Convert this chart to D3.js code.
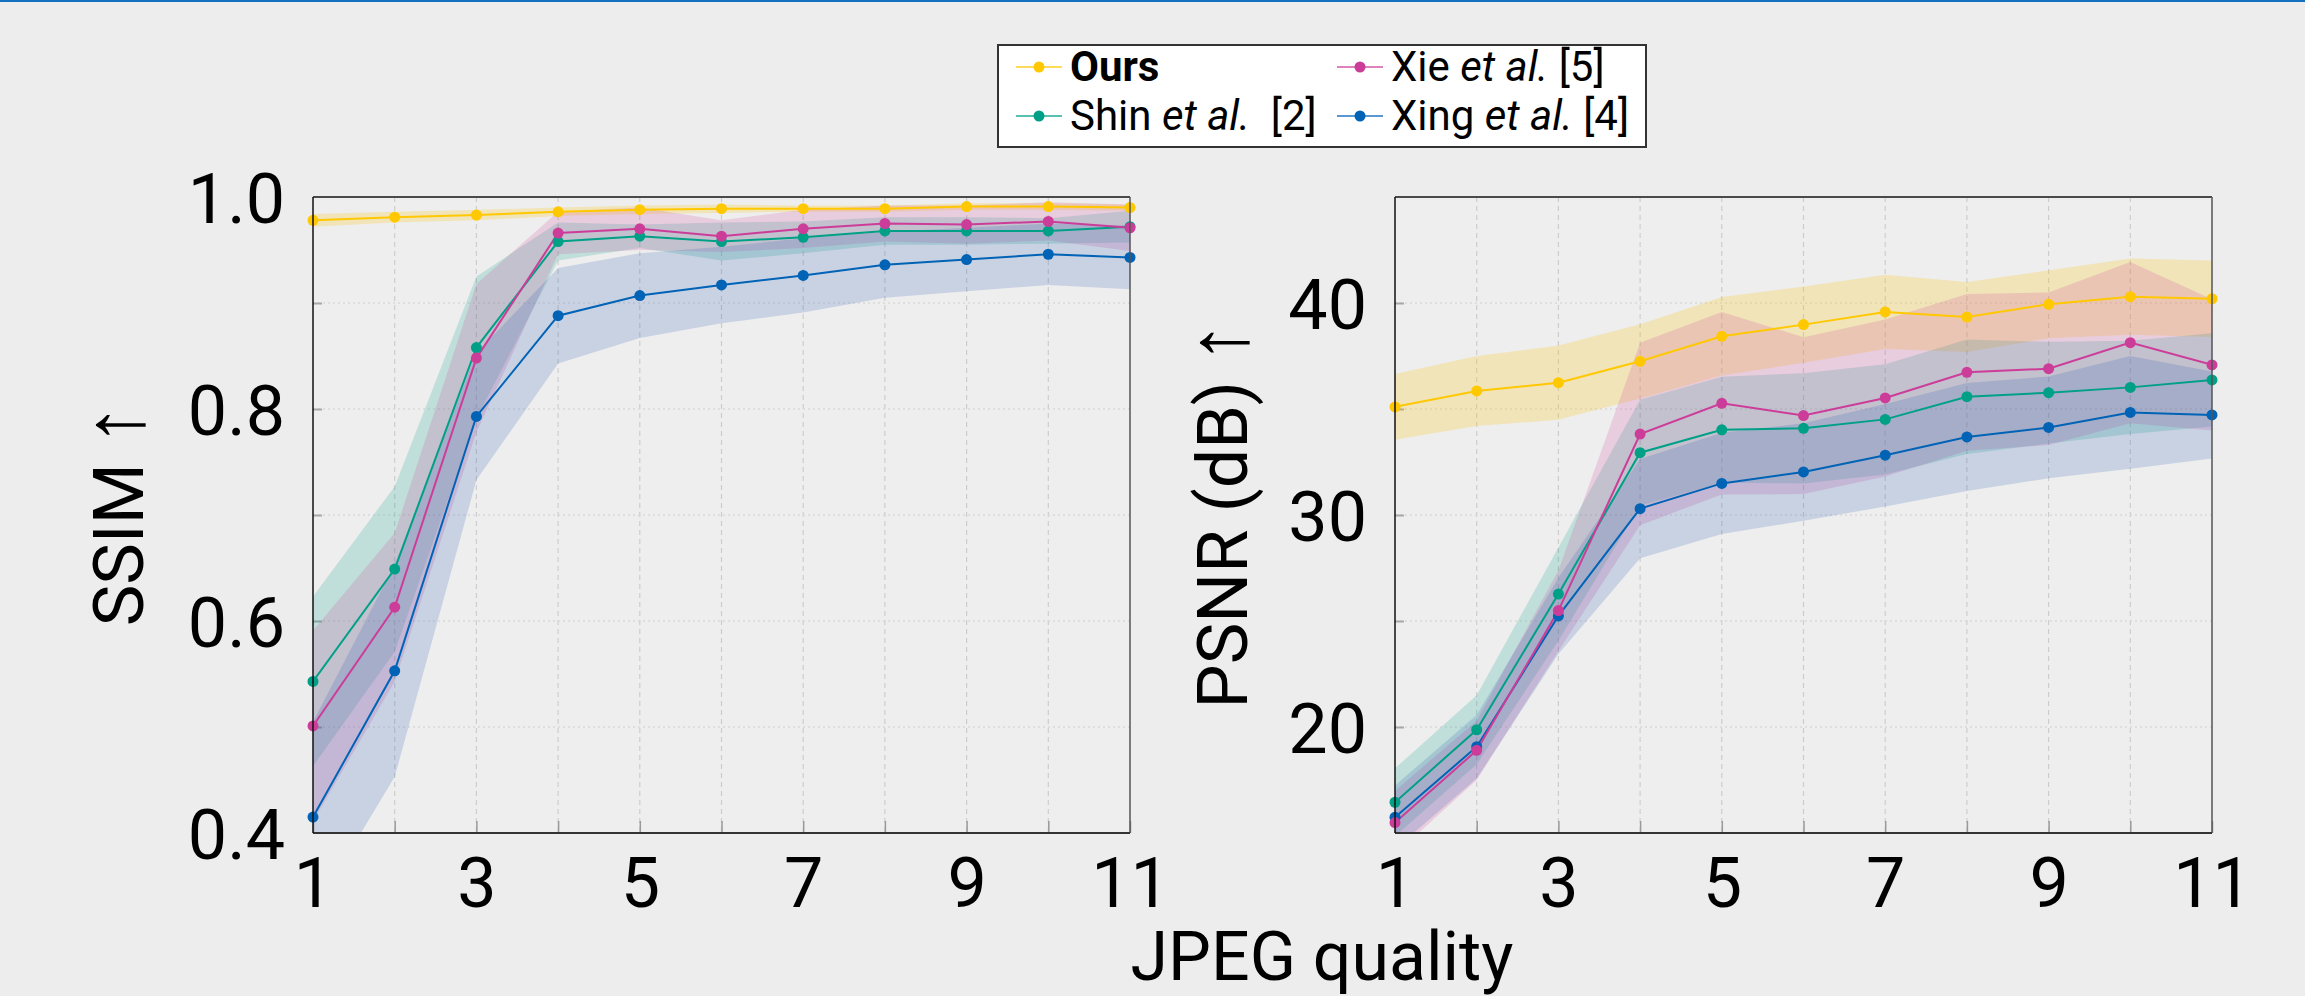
<!DOCTYPE html>
<html>
<head>
<meta charset="utf-8">
<script src="https://cdn.jsdelivr.net/npm/d3@7"></script>
<style>
  body { margin: 0; background: #ededed; }
  svg { display: block; }
  text { font-family: Roboto, "DejaVu Sans", sans-serif; fill: #000; }
</style>
</head>
<body>
<svg id="chart" width="2305" height="996"></svg>
<script>
// JPEG quality levels (x axis)
const qualities = [1, 2, 3, 4, 5, 6, 7, 8, 9, 10, 11];
const xTickLabels = [1, 3, 5, 7, 9, 11];

// SSIM mean / spread per method
const ssimOurs    = [0.978, 0.981, 0.983, 0.986, 0.988, 0.989, 0.989, 0.989, 0.991, 0.991, 0.990];
const ssimOursStd = [0.006, 0.005, 0.005, 0.004, 0.004, 0.004, 0.003, 0.003, 0.003, 0.003, 0.003];
const ssimShin    = [0.543, 0.649, 0.858, 0.958, 0.963, 0.958, 0.962, 0.968, 0.968, 0.968, 0.972];
const ssimShinStd = [0.080, 0.078, 0.067, 0.018, 0.011, 0.018, 0.015, 0.013, 0.013, 0.012, 0.015];
const ssimXie     = [0.501, 0.613, 0.848, 0.966, 0.970, 0.963, 0.970, 0.975, 0.974, 0.977, 0.971];
const ssimXieStd  = [0.090, 0.070, 0.070, 0.020, 0.020, 0.015, 0.018, 0.017, 0.018, 0.018, 0.022];
const ssimXing    = [0.415, 0.553, 0.793, 0.888, 0.907, 0.917, 0.926, 0.936, 0.941, 0.946, 0.943];
const ssimXingStd = [0.090, 0.100, 0.060, 0.045, 0.040, 0.036, 0.035, 0.031, 0.030, 0.029, 0.030];

// PSNR (dB) mean / spread per method
const psnrOurs    = [35.10, 35.85, 36.24, 37.25, 38.43, 38.98, 39.58, 39.34, 39.94, 40.30, 40.20];
const psnrOursStd = [1.55, 1.65, 1.75, 1.75, 1.85, 1.80, 1.75, 1.65, 1.60, 1.80, 1.80];
const psnrShin    = [16.45, 19.87, 26.27, 32.94, 34.02, 34.09, 34.51, 35.58, 35.77, 36.02, 36.37];
const psnrShinStd = [1.60, 1.63, 2.20, 2.50, 2.50, 2.60, 2.60, 2.70, 2.40, 2.20, 2.20];
const psnrXie     = [15.49, 18.90, 25.49, 33.82, 35.27, 34.69, 35.52, 36.73, 36.90, 38.13, 37.08];
const psnrXieStd  = [1.50, 1.40, 1.90, 4.30, 4.30, 3.70, 3.70, 3.70, 3.60, 3.80, 3.10];
const psnrXing    = [15.74, 19.07, 25.24, 30.30, 31.49, 32.03, 32.82, 33.68, 34.13, 34.84, 34.72];
const psnrXingStd = [1.50, 1.50, 1.80, 2.34, 2.39, 2.30, 2.42, 2.55, 2.40, 2.66, 2.05];

// legend entries
const methodKeys  = ["Ours", "Shin", "Xie", "Xing"];
const methodNames = ["Ours", "Shin", "Xie", "Xing"];
const methodRefs  = ["", "[2]", "[5]", "[4]"];
const colors     = { Ours: "#ffc800", Shin: "#00a087", Xie: "#cc3d99", Xing: "#0063b6" };
const bandColors = { Ours: "#ffc400", Shin: "#00a087", Xie: "#d0409a", Xing: "#2a58b5" };

const svg = d3.select("#chart");

// thin blue rule along the top edge
svg.append("rect").attr("x", 0).attr("y", 0).attr("width", 2305).attr("height", 2).attr("fill", "#1470c0");

const plotTop = 197, plotBottom = 833;

function makeSeries(means, stds) {
  return methodKeys.map((k, i) => ({
    key: k,
    values: qualities.map((q, j) => ({ q: q, v: means[i][j], s: stds[i][j] }))
  }));
}

function drawPanel(cfg) {
  const x = d3.scaleLinear().domain([1, 11]).range([cfg.left, cfg.right]);
  const y = d3.scaleLinear().domain(cfg.yDomain).range([plotBottom, plotTop]);
  const g = svg.append("g");

  g.append("rect")
    .attr("x", cfg.left).attr("y", plotTop)
    .attr("width", cfg.right - cfg.left).attr("height", plotBottom - plotTop)
    .attr("fill", "#eeeeee");

  svg.append("defs").append("clipPath").attr("id", cfg.id)
    .append("rect")
    .attr("x", cfg.left).attr("y", plotTop)
    .attr("width", cfg.right - cfg.left).attr("height", plotBottom - plotTop);

  // grid
  g.append("g").selectAll("line").data(qualities.slice(1, -1)).enter().append("line")
    .attr("x1", d => x(d)).attr("x2", d => x(d))
    .attr("y1", plotTop).attr("y2", plotBottom)
    .attr("stroke", "#cdcdcd").attr("stroke-width", 1.2).attr("stroke-dasharray", "5,4");
  g.append("g").selectAll("line").data(cfg.grid).enter().append("line")
    .attr("x1", cfg.left).attr("x2", cfg.right)
    .attr("y1", d => y(d)).attr("y2", d => y(d))
    .attr("stroke", "#d9d9d9").attr("stroke-width", 1.6).attr("stroke-dasharray", "2,3");

  // inner tick marks
  const yt = g.append("g").attr("transform", `translate(${cfg.left},0)`)
    .call(d3.axisLeft(y).tickValues(cfg.grid).tickSize(-9).tickFormat(""));
  yt.select(".domain").remove();
  yt.selectAll(".tick line").attr("stroke", "#a8a8a8").attr("stroke-width", 2);
  const xt = g.append("g").attr("transform", `translate(0,${plotBottom})`)
    .call(d3.axisBottom(x).tickValues(qualities).tickSize(-12).tickFormat(""));
  xt.select(".domain").remove();
  xt.selectAll(".tick line").attr("stroke", "#999").attr("stroke-width", 1.5);

  const series = makeSeries(cfg.means, cfg.stds);

  const area = d3.area()
    .x(d => x(d.q))
    .y0(d => y(d.v - d.s))
    .y1(d => y(d.v + d.s));
  const line = d3.line()
    .x(d => x(d.q))
    .y(d => y(d.v));

  const plot = g.append("g").attr("clip-path", `url(#${cfg.id})`);
  plot.selectAll(".band").data(series).enter().append("path")
    .attr("class", "band")
    .attr("d", d => area(d.values))
    .attr("fill", d => bandColors[d.key])
    .attr("fill-opacity", d => d.key === "Ours" ? 0.22 : 0.19);

  const drawOrder = ["Xing", "Shin", "Xie", "Ours"].map(k => series.find(s => s.key === k));
  plot.selectAll(".line").data(drawOrder).enter().append("path")
    .attr("class", "line")
    .attr("d", d => line(d.values))
    .attr("fill", "none")
    .attr("stroke", d => colors[d.key])
    .attr("stroke-width", 2);

  drawOrder.forEach(s => {
    g.append("g").selectAll("circle").data(s.values).enter().append("circle")
      .attr("cx", d => x(d.q))
      .attr("cy", d => y(d.v))
      .attr("r", 5.5)
      .attr("fill", colors[s.key]);
  });

  // frame
  g.append("line").attr("x1", cfg.left).attr("x2", cfg.right).attr("y1", plotTop).attr("y2", plotTop)
    .attr("stroke", "#4a4a4a").attr("stroke-width", 2);
  g.append("line").attr("x1", cfg.right).attr("x2", cfg.right).attr("y1", plotTop).attr("y2", plotBottom)
    .attr("stroke", "#555").attr("stroke-width", 1.5);
  g.append("line").attr("x1", cfg.left).attr("x2", cfg.right).attr("y1", plotBottom).attr("y2", plotBottom)
    .attr("stroke", "#333").attr("stroke-width", 2);
  g.append("line").attr("x1", cfg.left).attr("x2", cfg.left).attr("y1", plotTop).attr("y2", plotBottom)
    .attr("stroke", "#111").attr("stroke-width", 1.5);

  // tick labels
  const ya = g.append("g").attr("transform", `translate(${cfg.left},0)`)
    .call(d3.axisLeft(y).tickValues(cfg.labels).tickFormat(cfg.fmt).tickSize(0).tickPadding(28));
  ya.select(".domain").remove();
  ya.selectAll("text").style("font-size", "70px").attr("dy", "0.36em");

  const xa = g.append("g").attr("transform", `translate(0,${plotBottom})`)
    .call(d3.axisBottom(x).tickValues(xTickLabels).tickFormat(d3.format("d")).tickSize(0).tickPadding(24));
  xa.select(".domain").remove();
  xa.selectAll("text").style("font-size", "70px");

  // y title, with a thin arrow
  const title = g.append("text")
    .attr("transform", `translate(${cfg.titleX},${(plotTop + plotBottom) / 2}) rotate(-90)`)
    .attr("text-anchor", "middle")
    .style("font-size", "70px");
  title.append("tspan").text(cfg.title + " ");
  title.append("tspan").style("font-family", "'Liberation Serif', serif").style("font-size", "84px").text("\u2191");
}

drawPanel({
  id: "clip-ssim", left: 313, right: 1130,
  yDomain: [0.4, 1.0],
  grid: [0.5, 0.6, 0.7, 0.8, 0.9],
  labels: [0.4, 0.6, 0.8, 1.0],
  fmt: d3.format(".1f"),
  means: [ssimOurs, ssimShin, ssimXie, ssimXing],
  stds: [ssimOursStd, ssimShinStd, ssimXieStd, ssimXingStd],
  title: "SSIM", titleX: 143
});

drawPanel({
  id: "clip-psnr", left: 1395, right: 2212,
  yDomain: [15, 45],
  grid: [20, 25, 30, 35, 40],
  labels: [20, 30, 40],
  fmt: d3.format("d"),
  means: [psnrOurs, psnrShin, psnrXie, psnrXing],
  stds: [psnrOursStd, psnrShinStd, psnrXieStd, psnrXingStd],
  title: "PSNR (dB)", titleX: 1247
});

// x title
svg.append("text")
  .attr("x", 1322).attr("y", 980)
  .attr("text-anchor", "middle")
  .style("font-size", "68px")
  .text("JPEG quality");

// legend
const legend = svg.append("g");
legend.append("rect")
  .attr("x", 998).attr("y", 45).attr("width", 648).attr("height", 102)
  .attr("fill", "#fff").attr("stroke", "#333").attr("stroke-width", 2);

const colX = [1016, 1337];
const rowY = [67, 116];
methodKeys.forEach((k, i) => {
  const cx = colX[Math.floor(i / 2)];
  const cy = rowY[i % 2];
  const item = legend.append("g").attr("transform", `translate(${cx},${cy})`);
  item.append("line").attr("x1", 0).attr("x2", 46).attr("y1", 0).attr("y2", 0)
    .attr("stroke", colors[k]).attr("stroke-width", 2.2).attr("stroke-opacity", 0.65);
  item.append("circle").attr("cx", 23).attr("cy", 0).attr("r", 5.5).attr("fill", colors[k]);
  const t = item.append("text").attr("x", 54).attr("y", 14).style("font-size", "42px");
  if (k === "Ours") {
    t.append("tspan").style("font-weight", "bold").text(methodNames[i]);
  } else {
    t.append("tspan").text(methodNames[i] + " ");
    t.append("tspan").style("font-style", "italic").text("et al.");
    t.append("tspan").text((k === "Shin" ? "\u00a0 " : " ") + methodRefs[i]);
  }
});
</script>
</body>
</html>
